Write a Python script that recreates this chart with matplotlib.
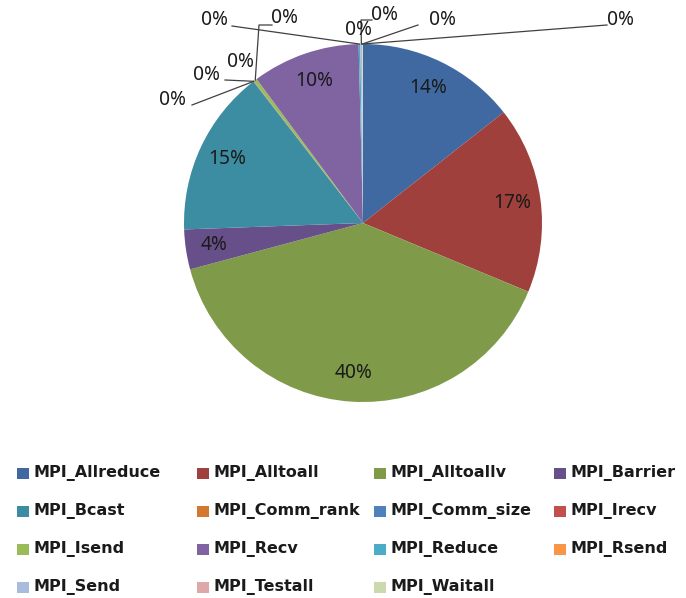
import numpy as np
import matplotlib.pyplot as plt
from matplotlib.patches import Rectangle

# share of MPI time per call (percent)
calls = ['MPI_Allreduce', 'MPI_Alltoall', 'MPI_Alltoallv', 'MPI_Barrier',
         'MPI_Bcast', 'MPI_Comm_rank', 'MPI_Comm_size', 'MPI_Irecv',
         'MPI_Isend', 'MPI_Recv', 'MPI_Reduce', 'MPI_Rsend',
         'MPI_Send', 'MPI_Testall', 'MPI_Waitall']
share = [14.4, 16.9, 39.6, 3.6, 15.1, 0.02, 0.02, 0.02,
         0.3, 9.75, 0.15, 0.02, 0.15, 0.02, 0.05]
colors = ['#4069A2', '#A0403C', '#7F9B4A', '#674F8A', '#3C8DA2', '#D3782F',
          '#4F81BD', '#C0504D', '#9BBB59', '#8064A2', '#4BACC6', '#F79646',
          '#A9BCDE', '#DDA9A8', '#CADAAE']

W, H = 686, 598
CX, CY, R = 363, 223, 179
FONT = 'Noto Sans'
LEG_FONT = 'DejaVu Sans'


def px(x, y):
    # pixel position in the image -> data coords (pie radius = 1)
    return (x - CX) / R, (CY - y) / R


fig = plt.figure(figsize=(W / 100, H / 100), dpi=100)
ax = fig.add_axes([0, 0, 1, 1])
wedges, _ = ax.pie(share, colors=colors, startangle=90, counterclock=False,
                   radius=1, wedgeprops=dict(linewidth=0))
ax.set_xlim(px(0, 0)[0], px(W, 0)[0])
ax.set_ylim(px(0, H)[1], px(0, 0)[1])
ax.axis('off')

# labels of the tiny slices sit outside, with leader lines
outside = {
    5: ((173, 100), [(192, 105)]),
    6: ((207, 75), [(225, 80)]),
    7: ((240, 62), []),
    8: ((285, 18), [(272, 25), (259, 25)]),
    10: ((215, 20), [(232, 26)]),
    11: ((358, 30), []),
    12: ((385, 15), [(372, 20), (361, 20)]),
    13: ((442, 20), [(418, 25)]),
    14: ((620, 20), [(607, 25)]),
}

total = sum(share)
for i, w in enumerate(wedges):
    mid = np.deg2rad((w.theta1 + w.theta2) / 2)
    pct = f"{share[i] / total * 100:.0f}%"
    if i in outside:
        (tx, ty), path = outside[i]
        if path:
            pts = [px(*p) for p in path] + [(np.cos(mid), np.sin(mid))]
            xs, ys = zip(*pts)
            ax.plot(xs, ys, color='#404040', lw=0.9)
        ax.text(*px(tx, ty), pct, ha='center', va='center',
                fontsize=13.8, family=FONT, color='#1a1a1a')
    else:
        ax.text(0.84 * np.cos(mid), 0.84 * np.sin(mid), pct, ha='center',
                va='center', fontsize=13.8, family=FONT, color='#1a1a1a')

# legend: 4 columns, filled row by row
col_x = [17, 197, 374, 554]
row_y = [473, 511, 549, 587]
for i, name in enumerate(calls):
    x = col_x[i % 4]
    y = row_y[i // 4]
    ax.add_patch(Rectangle(px(x, y + 6), 12 / R, 11 / R, color=colors[i],
                           lw=0, clip_on=False))
    ax.text(*px(x + 17, y), name, ha='left', va='center', fontsize=11.5,
            family=LEG_FONT, fontweight='bold', color='#1a1a1a')

fig.savefig('out.png', dpi=100)
